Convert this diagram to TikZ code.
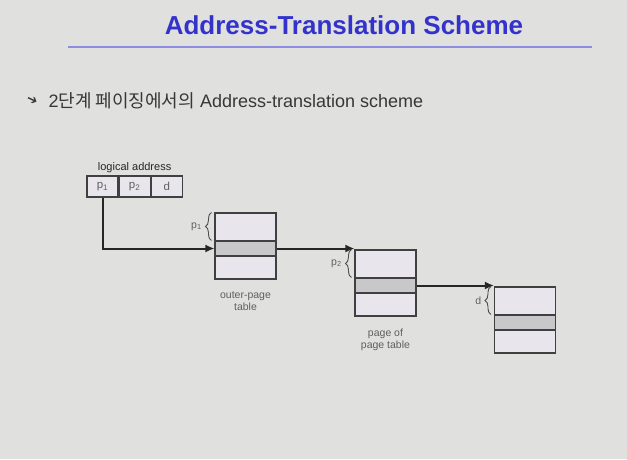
\documentclass[tikz,border=0pt]{standalone}
\usepackage{fontspec}
\setmainfont{Liberation Sans}
\newfontfamily\krfont{Noto Sans CJK KR}
\newfontfamily\symfont{DejaVu Sans}
\usetikzlibrary{arrows,arrows.meta,positioning,calc,decorations.pathreplacing}

\definecolor{slidebg}{RGB}{224,224,222}
\definecolor{titleblue}{RGB}{51,51,204}
\definecolor{ruleblue}{RGB}{140,140,225}
\definecolor{tablefill}{RGB}{232,230,236}
\definecolor{rowfill}{RGB}{200,200,202}
\definecolor{textgray}{RGB}{55,55,55}
\definecolor{labelgray}{RGB}{95,95,95}

\begin{document}
\begin{tikzpicture}[
    x=1pt, y=-1pt,
    cell/.style={rectangle, draw=black!75, line width=1.1pt, fill=tablefill, minimum width=31pt, minimum height=21pt, inner sep=0pt, font=\fontsize{11.5}{13}\selectfont, text=labelgray},
    ptable/.style={rectangle, draw=black!75, line width=1.1pt, fill=tablefill, minimum width=61pt, minimum height=66pt, inner sep=0pt},
    entry/.style={rectangle, draw=black!75, line width=1.1pt, fill=rowfill, minimum width=61pt, minimum height=15pt, inner sep=0pt},
    caption/.style={align=center, font=\fontsize{10.5}{12}\selectfont, text=labelgray},
    brace/.style={decorate, decoration={brace, amplitude=6pt}, draw=black!70, line width=0.9pt},
    arrow/.style={-{Latex[length=9pt, width=8pt]}, line width=2pt, draw=black!85}
]

% Slide background
\fill[slidebg] (0,0) rectangle (627,459);
\useasboundingbox (0,0) rectangle (627,459);

% Title
\node[font=\fontsize{26}{30}\selectfont\bfseries, text=titleblue] (title) at (344,25) {Address-Translation Scheme};
\draw[ruleblue, line width=2pt] (68,47) -- (592,47);

% Bullet line
\node[text=textgray, font=\symfont\fontsize{13}{14}\selectfont, rotate=-25] (bullet) at (32,101) {➔};
\node[anchor=west, text=textgray, font=\fontsize{18}{21}\selectfont] (subtitle) at (45,101) {2{\krfont 단계 페이징에서의} Address-translation scheme};

% Logical address
\node[cell] (p1) at (102.5,186.5) {p\textsubscript{1}};
\node[cell, right=0pt of p1] (p2) {p\textsubscript{2}};
\node[cell, right=0pt of p2] (d) {d};
\node[above=-1pt of p2, font=\fontsize{11}{12}\selectfont, text=black!85] (laddr) {logical address};

% Outer-page table
\node[ptable] (outer) at (245.5,246) {};
\node[entry, below=28pt of outer.north] (outrow) {};
\node[caption, below=9pt of outer] (outlbl) {outer-page\\table};

% Page of page table
\node[ptable] (pgtbl) at (385.5,283) {};
\node[entry, below=28pt of pgtbl.north] (pgrow) {};
\node[caption, below=9pt of pgtbl] (pglbl) {page of\\page table};

% Page in memory
\node[ptable] (mem) at (525,320) {};
\node[entry, below=28pt of mem.north] (memrow) {};

% Braces
\draw[brace] ([xshift=-3pt]outrow.north west) -- ([xshift=-3pt]outer.north west)
    node[midway, left=6pt, caption] (lp1) {p\textsubscript{1}};
\draw[brace] ([xshift=-3pt]pgrow.north west) -- ([xshift=-3pt]pgtbl.north west)
    node[midway, left=6pt, caption] (lp2) {p\textsubscript{2}};
\draw[brace] ([xshift=-3pt]memrow.north west) -- ([xshift=-3pt]mem.north west)
    node[midway, left=6pt, caption] (ld) {d};

% Arrows
\draw[arrow] (p1.south) |- (outrow.west);
\draw[arrow] (outrow.east) -- (outrow.east -| pgtbl.west);
\draw[arrow] (pgrow.east) -- (pgrow.east -| mem.west);

\end{tikzpicture}
\end{document}
